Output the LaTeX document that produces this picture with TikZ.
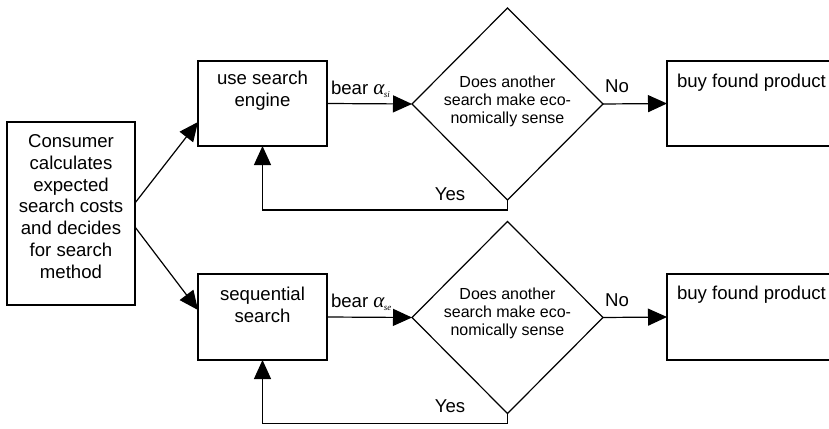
\documentclass[tikz,border=0pt]{standalone}
\usepackage{fontspec}
\setmainfont{Liberation Sans}
\newfontfamily\serifgr{Liberation Serif}
\usetikzlibrary{arrows.meta,shapes.geometric}
\newcommand{\alab}[1]{{\serifgr\itshape\fontsize{21}{21}\selectfont α\kern-0.5pt\raisebox{-3pt}{\fontsize{9}{9}\selectfont #1}}}
\begin{document}
\begin{tikzpicture}[x=1pt,y=-1pt,
  every node/.style={inner sep=0pt,outer sep=0pt},
  boxshape/.style={draw,line width=1.2pt,rectangle},
  diashape/.style={draw,line width=1.2pt,diamond,minimum width=191pt,minimum height=192pt},
  bigtext/.style={font=\fontsize{18.6}{21.7}\selectfont,align=center},
  smalltext/.style={font=\fontsize{16}{18}\selectfont,align=center},
  conn/.style={line width=1.2pt,-{Triangle[length=19pt,width=17pt]}},
  plain/.style={line width=1.2pt}]
\useasboundingbox (0,0) rectangle (829,428);
% boxes
\node[boxshape,minimum width=128pt,minimum height=183pt] (L) at (71,213.5) {};
\node[bigtext] (Lt) at (71,206.5) {Consumer\\calculates\\expected\\search costs\\and decides\\for search\\method};
\node[boxshape,minimum width=129pt,minimum height=85pt] (T) at (262.5,103.5) {};
\node[bigtext] (Tt) at (262.5,91) {use search\\engine};
\node[boxshape,minimum width=129pt,minimum height=86pt] (B) at (262.5,317) {};
\node[bigtext] (Bt) at (262.5,305) {sequential\\search};
\node[diashape] (D1) at (507.5,104) {};
\node[smalltext] (D1t) at (507.5,101) {Does another\\search make eco-\\nomically sense};
\node[diashape] (D2) at (507.5,317.5) {};
\node[smalltext] (D2t) at (507.5,313.5) {Does another\\search make eco-\\nomically sense};
\node[boxshape,minimum width=200pt,minimum height=85pt] (R1) at (767,103.5) {};
\node[bigtext,anchor=base west] (R1t) at (677,87) {buy found product};
\node[boxshape,minimum width=200pt,minimum height=86pt] (R2) at (767,317) {};
\node[bigtext,anchor=base west] (R2t) at (677,299) {buy found product};
% connectors
\draw[conn] ([yshift=10.5pt]L.east) -- ([yshift=-18.5pt]T.west);
\draw[conn] ([yshift=-13.5pt]L.east) -- ([yshift=7pt]B.west);
\draw[conn] (T.east) -- (D1.west);
\draw[conn] (B.east) -- (D2.west);
\draw[conn] (D1.east) -- (R1.west);
\draw[conn] (D2.east) -- (R2.west);
\draw[conn] (D1.south) -- ++(0,-10pt) -| (T.south);
\draw[conn] (D2.south) -- ++(0,-10pt) -| (B.south);
% labels
\node[bigtext,anchor=base west] (lb1) at (331,94) {bear \alab{si}};
\node[bigtext,anchor=base west] (lb2) at (331,307) {bear \alab{se}};
\node[bigtext,anchor=base] (no1) at (617,92) {No};
\node[bigtext,anchor=base] (no2) at (617,306) {No};
\node[bigtext,anchor=base] (y1) at (450,200) {Yes};
\node[bigtext,anchor=base] (y2) at (450,412) {Yes};
\end{tikzpicture}
\end{document}
